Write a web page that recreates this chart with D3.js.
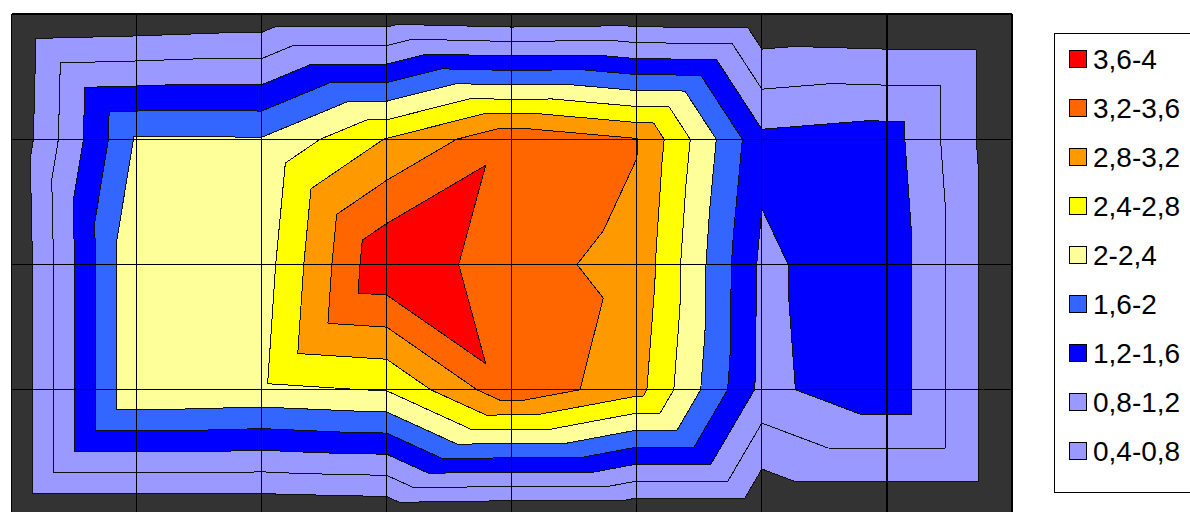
<!DOCTYPE html>
<html>
<head>
<meta charset="utf-8">
<script src="https://cdn.jsdelivr.net/npm/d3@7"></script>
<style>
  body { margin: 0; background: #fff; }
  svg { display: block; }
</style>
</head>
<body>
<svg id="chart" width="1190" height="512"></svg>
<script>
// categories along x, series down y (surface grid, top view)
var columns = ['1', '2', '3', '4', '5', '6', '7', '8', '9'];
var seriesNames = ['S1', 'S2', 'S3', 'S4', 'S5'];

var s1 = [0.00, 0.05, 0.12, 0.12, 0.04, 0.08, 0.05, 0.01, 0.00];
var s2 = [0.05, 2.05, 2.03, 2.82, 3.50, 3.22, 1.30, 1.40, 0.00];
var s3 = [0.00, 2.38, 2.20, 3.98, 3.32, 3.09, 1.12, 1.50, 0.00];
var s4 = [0.00, 2.38, 2.32, 2.42, 3.50, 2.95, 1.09, 1.50, 0.00];
var s5 = [0.00, 0.00, 0.00, 0.05, 0.00, 0.00, 0.00, 0.00, 0.00];

var thresholds = [0.4, 0.8, 1.2, 1.6, 2, 2.4, 2.8, 3.2, 3.6];
var bandColors = ['#333333', '#9999ff', '#9999ff', '#0000ff', '#3366ff',
                  '#ffff99', '#ffff00', '#ff9900', '#ff6600', '#ff0000'];
var legendLabels = ['3,6-4', '3,2-3,6', '2,8-3,2', '2,4-2,8', '2-2,4',
                    '1,6-2', '1,2-1,6', '0,8-1,2', '0,4-0,8'];

var grid = [s1, s2, s3, s4, s5];

var svg = d3.select('#chart');

var x = d3.scaleLinear().domain([0, columns.length - 1]).range([11.5, 1012]);
var y = d3.scaleLinear().domain([0, seriesNames.length - 1]).range([14, 515]);
var color = d3.scaleThreshold().domain(thresholds).range(bandColors);

// split every cell in two triangles, along the diagonal through its highest corner
function getTriangles() {
  var tris = [];
  for (var j = 0; j < grid.length - 1; j++) {
    for (var i = 0; i < columns.length - 1; i++) {
      var tl = [i, j, grid[j][i]], tr = [i + 1, j, grid[j][i + 1]];
      var bl = [i, j + 1, grid[j + 1][i]], br = [i + 1, j + 1, grid[j + 1][i + 1]];
      var m = Math.max(tl[2], tr[2], bl[2], br[2]);
      if (tl[2] === m || br[2] === m) {
        tris.push([tl, tr, br], [tl, br, bl]);
      } else {
        tris.push([tl, tr, bl], [tr, br, bl]);
      }
    }
  }
  return tris;
}

// keep the part of a polygon above (or below) a level
function clip(poly, t, above) {
  var out = [];
  for (var k = 0; k < poly.length; k++) {
    var a = poly[k], b = poly[(k + 1) % poly.length];
    var ina = above ? a[2] >= t : a[2] <= t;
    var inb = above ? b[2] >= t : b[2] <= t;
    if (ina) out.push(a);
    if (ina !== inb) {
      var f = (t - a[2]) / (b[2] - a[2]);
      out.push([a[0] + f * (b[0] - a[0]), a[1] + f * (b[1] - a[1]), t]);
    }
  }
  return out;
}

var tris = getTriangles();
var levels = [-Infinity].concat(thresholds).concat([Infinity]);

// band fills
var bands = [];
for (var k = 0; k < levels.length - 1; k++) {
  var p = d3.path();
  tris.forEach(function(tri) {
    var poly = tri;
    if (levels[k] > -Infinity) poly = clip(poly, levels[k], true);
    if (poly.length > 2 && levels[k + 1] < Infinity) poly = clip(poly, levels[k + 1], false);
    if (poly.length < 3) return;
    poly.forEach(function(pt, n) {
      if (n === 0) p.moveTo(x(pt[0]), y(pt[1]));
      else p.lineTo(x(pt[0]), y(pt[1]));
    });
    p.closePath();
  });
  bands.push({ d: p.toString(), fill: color(k === 0 ? 0 : levels[k]) });
}

var plot = svg.append('g');

plot.append('rect')
  .attr('x', x(0)).attr('y', y(0))
  .attr('width', x(columns.length - 1) - x(0))
  .attr('height', y(seriesNames.length - 1) - y(0))
  .attr('fill', bandColors[0]);

plot.selectAll('path.band').data(bands)
  .enter().append('path')
  .attr('class', 'band')
  .attr('d', function(d) { return d.d; })
  .attr('fill', function(d) { return d.fill; })
  .attr('stroke', function(d) { return d.fill; })
  .attr('stroke-width', 0.6)
  .attr('shape-rendering', 'crispEdges');

// contour lines
var lp = d3.path();
thresholds.forEach(function(t) {
  tris.forEach(function(tri) {
    var pts = [];
    for (var e = 0; e < 3; e++) {
      var a = tri[e], b = tri[(e + 1) % 3];
      if ((a[2] >= t) !== (b[2] >= t)) {
        var f = (t - a[2]) / (b[2] - a[2]);
        pts.push([a[0] + f * (b[0] - a[0]), a[1] + f * (b[1] - a[1])]);
      }
    }
    if (pts.length === 2) {
      lp.moveTo(x(pts[0][0]), y(pts[0][1]));
      lp.lineTo(x(pts[1][0]), y(pts[1][1]));
    }
  });
});
plot.append('path')
  .attr('d', lp.toString())
  .attr('fill', 'none')
  .attr('stroke', '#111')
  .attr('stroke-width', 1)
  .attr('shape-rendering', 'crispEdges');

// gridlines
plot.selectAll('line.vgrid').data(columns)
  .enter().append('line')
  .attr('class', 'vgrid')
  .attr('x1', function(d, i) { return x(i); })
  .attr('x2', function(d, i) { return x(i); })
  .attr('y1', y(0))
  .attr('y2', y(seriesNames.length - 1))
  .attr('stroke', '#000')
  .attr('stroke-width', 1.2)
  .attr('shape-rendering', 'crispEdges');

plot.selectAll('line.hgrid').data(seriesNames)
  .enter().append('line')
  .attr('class', 'hgrid')
  .attr('y1', function(d, j) { return y(j); })
  .attr('y2', function(d, j) { return y(j); })
  .attr('x1', x(0))
  .attr('x2', x(columns.length - 1))
  .attr('stroke', '#000')
  .attr('stroke-width', 1.2)
  .attr('shape-rendering', 'crispEdges');

// legend
var legend = svg.append('g');
legend.append('rect')
  .attr('x', 1054.5).attr('y', 33.5)
  .attr('width', 200).attr('height', 459)
  .attr('fill', '#fff')
  .attr('stroke', '#000')
  .attr('stroke-width', 1);

var item = legend.selectAll('g.item').data(legendLabels)
  .enter().append('g')
  .attr('class', 'item')
  .attr('transform', function(d, i) { return 'translate(1069,' + (59 + i * 49) + ')'; });

item.append('rect')
  .attr('x', 0.5).attr('y', -8.5)
  .attr('width', 17).attr('height', 17)
  .attr('fill', function(d, i) { return bandColors[bandColors.length - 1 - i]; })
  .attr('stroke', '#000')
  .attr('stroke-width', 1);

item.append('text')
  .attr('x', 24)
  .attr('y', 10)
  .attr('font-family', 'Liberation Sans, Arial, sans-serif')
  .attr('font-size', 28)
  .attr('fill', '#000')
  .text(function(d) { return d; });
</script>
</body>
</html>
